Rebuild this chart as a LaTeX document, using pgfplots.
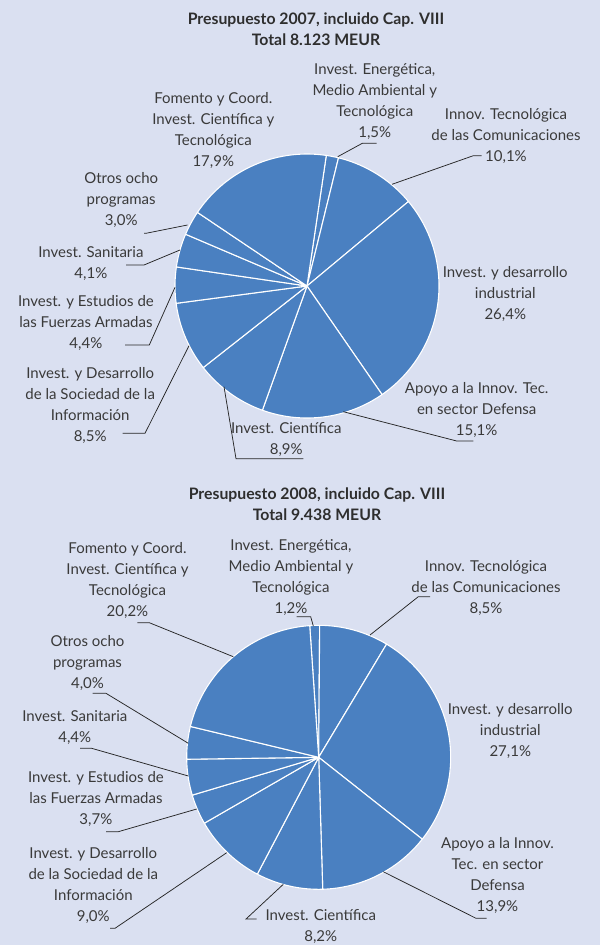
\documentclass[border=0pt]{standalone}
\usepackage{pgfplots}
\pgfplotsset{compat=1.18}
\usepackage{fontspec}
\setmainfont{Lato}
\definecolor{bg}{HTML}{DAE0F1}
\definecolor{pie}{HTML}{4A80C1}
\definecolor{txt}{HTML}{3A3A3A}
\newcommand\R{132}
\newcommand\slice[1]{%
  \pgfmathsetmacro\angA{\curang}%
  \pgfmathsetmacro\angB{\curang-#1*3.6*\sfac}%
  \edef\doslice{\noexpand\addplot[fill=pie, draw=white, line width=1.1pt, line join=round, domain=\angB:\angA, samples=60] ({\cx+\R*cos(x)},{\cy-\R*sin(x)}) -- (axis cs:\cx,\cy) -- cycle;}%
  \doslice
  \global\let\curang\angB}
\tikzset{
  lbl/.style={align=center, font=\fontsize{15}{21}\selectfont, text=txt, inner sep=0pt},
  ttl/.style={align=center, font=\fontsize{15.8}{21}\selectfont\bfseries, text=txt!80!black, inner sep=0pt},
}
\pgfplotsset{leader/.style={draw=black!85, line width=0.75pt, mark=none}}
\begin{document}
\begin{tikzpicture}
\begin{axis}[x=1pt, y=1pt, y dir=reverse, xmin=0, xmax=600, ymin=0, ymax=945,
  hide axis, clip=false]
\addplot[fill=bg, draw=none] coordinates {(0,0) (600,0) (600,945) (0,945)} -- cycle;
% ---------- Chart 2007 ----------
\def\cx{307}\def\cy{286}\gdef\curang{81.6}\pgfmathsetmacro\sfac{100/99.9}
\slice{1.5}   % Invest. Energetica
\slice{10.1}  % Innov. Comunicaciones
\slice{26.4}  % Industrial
\slice{15.1}  % Defensa
\slice{8.9}   % Cientifica
\slice{8.5}   % Sociedad Informacion
\slice{4.4}   % Fuerzas Armadas
\slice{4.1}   % Sanitaria
\slice{3.0}   % Otros
\slice{17.9}  % Fomento
\addplot[leader] coordinates {(337.7,156.7) (362.3,143.3) (376.7,143.3)};
\addplot[leader] coordinates {(392,184.3) (473.3,155.7) (481.7,155.7)};
\addplot[leader] coordinates {(343.3,411.7) (456.7,441) (473.3,441)};
\addplot[leader] coordinates {(224,386.7) (236,458.7) (303.3,458.7)};
\addplot[leader] coordinates {(189,345.7) (145,433.3) (122.7,433.3)};
\addplot[leader] coordinates {(175,287.3) (149.3,345) (125,345)};
\addplot[leader] coordinates {(180,250) (144,265) (126,265)};
\addplot[leader] coordinates {(187.5,225) (146,233.3) (144,233.3)};
\node[ttl] at (axis cs:316,29.5) {Presupuesto 2007, incluido Cap. VIII\\Total 8.123 MEUR};
\node[lbl] at (axis cs:374.8,102) {Invest. Energética,\\Medio Ambiental y\\Tecnológica\\1,5\%};
\node[lbl] at (axis cs:506,135.5) {Innov. Tecnológica\\de las Comunicaciones\\10,1\%};
\node[lbl] at (axis cs:505.3,293.7) {Invest. y desarrollo\\industrial\\26,4\%};
\node[lbl] at (axis cs:476.7,410.2) {Apoyo a la Innov. Tec.\\en sector Defensa\\15,1\%};
\node[lbl] at (axis cs:286.3,439.8) {Invest. Científica\\8,9\%};
\node[lbl] at (axis cs:90.2,405) {Invest. y Desarrollo\\de la Sociedad de la\\Información\\8,5\%};
\node[lbl] at (axis cs:85.9,322.8) {Invest. y Estudios de\\las Fuerzas Armadas\\4,4\%};
\node[lbl] at (axis cs:90.9,263.3) {Invest. Sanitaria\\4,1\%};
\node[lbl] at (axis cs:121.2,200) {Otros ocho\\programas\\3,0\%};
\node[lbl] at (axis cs:213.3,130) {Fomento y Coord.\\Invest. Científica y\\Tecnológica\\17,9\%};
% ---------- Chart 2008 ----------
\def\cx{318.7}\def\cy{757.3}\gdef\curang{93.9}\pgfmathsetmacro\sfac{100/100.2}
\slice{1.2}
\slice{8.5}
\slice{27.1}
\slice{13.9}
\slice{8.2}
\slice{9.0}
\slice{3.7}
\slice{4.4}
\slice{4.0}
\slice{20.2}
\addplot[leader] coordinates {(296.7,616.7) (310.7,616.7) (313.3,626)};
\addplot[leader] coordinates {(430,596.7) (418.3,596.7) (370,635)};
\addplot[leader] coordinates {(383.3,871.7) (476,918.3) (486.7,918.3)};
\addplot[leader] coordinates {(256.7,919) (246,919) (283.3,884.3)};
\addplot[leader] coordinates {(110,928.3) (115,928.3) (226.7,852.7)};
\addplot[leader] coordinates {(106,831.7) (118.3,831.7) (196.7,809)};
\addplot[leader] coordinates {(80,748.3) (91.7,748.3) (188.3,776)};
\addplot[leader] coordinates {(92.7,693.3) (106,693.3) (188.3,743.3)};
\addplot[leader] coordinates {(137.3,622.7) (149.3,622.7) (233.3,656.7)};
\node[ttl] at (axis cs:317,504) {Presupuesto 2008, incluido Cap. VIII\\Total 9.438 MEUR};
\node[lbl] at (axis cs:291,577.2) {Invest. Energética,\\Medio Ambiental y\\Tecnológica\\1,2\%};
\node[lbl] at (axis cs:486,588) {Innov. Tecnológica\\de las Comunicaciones\\8,5\%};
\node[lbl] at (axis cs:510.3,731.3) {Invest. y desarrollo\\industrial\\27,1\%};
\node[lbl] at (axis cs:497.5,875) {Apoyo a la Innov.\\Tec. en sector\\Defensa\\13,9\%};
\node[lbl] at (axis cs:320.8,926.3) {Invest. Científica\\8,2\%};
\node[lbl] at (axis cs:93.3,885.7) {Invest. y Desarrollo\\de la Sociedad de la\\Información\\9,0\%};
\node[lbl] at (axis cs:95.9,798.7) {Invest. y Estudios de\\las Fuerzas Armadas\\3,7\%};
\node[lbl] at (axis cs:74.8,727.5) {Invest. Sanitaria\\4,4\%};
\node[lbl] at (axis cs:87.5,663.3) {Otros ocho\\programas\\4,0\%};
\node[lbl] at (axis cs:127.5,580) {Fomento y Coord.\\Invest. Científica y\\Tecnológica\\20,2\%};
\end{axis}
\end{tikzpicture}
\end{document}
